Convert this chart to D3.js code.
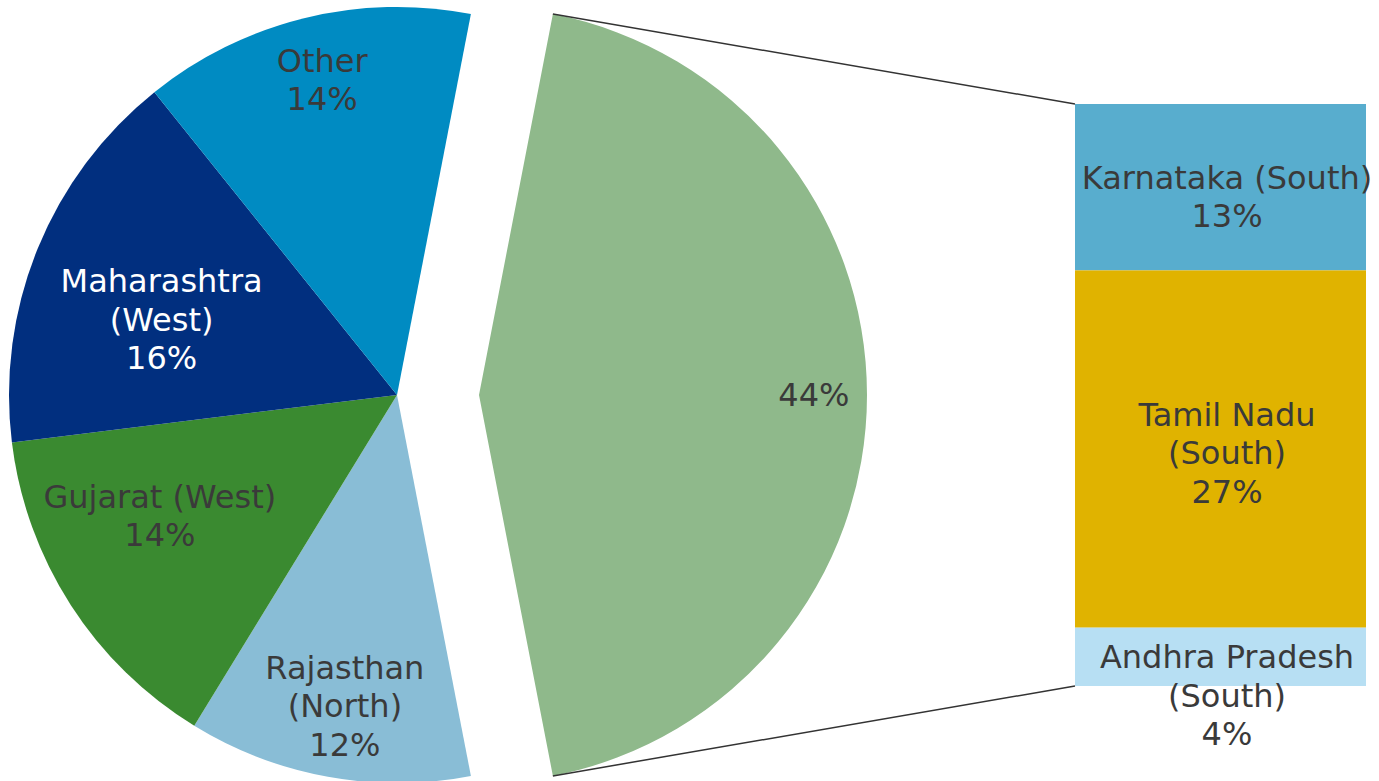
<!DOCTYPE html>
<html>
<head>
<meta charset="utf-8">
<script src="https://cdn.jsdelivr.net/npm/d3@7"></script>
<style>
  html, body { margin: 0; padding: 0; background: #fff; }
  svg text { font-family: Verdana, "DejaVu Sans", sans-serif; font-size: 32px; }
</style>
</head>
<body>
<script>
// pie of bar: first pie slice is the one broken out into the bar
var pieNames = ["", "Rajasthan\n(North)", "Gujarat (West)", "Maharashtra\n(West)", "Other"]
var pieValues = [43.9, 11.8, 14.3, 16.2, 13.8]
var pieColors = ["#8fb98b", "#89bdd6", "#3a8a30", "#012f7f", "#008bc2"]

var barNames = ["Karnataka (South)", "Tamil Nadu\n(South)", "Andhra Pradesh\n(South)"]
var barValues = [12.55, 26.95, 4.4]
var barColors = ["#58adce", "#e0b300", "#b7dff3"]

var W = 1379, H = 781
var cx = 397, cy = 395, R = 388, explode = 82
var bar = {x0: 1075, x1: 1366, y0: 104, y1: 686}
var lineH = 38.5
var textColor = "#3a3a3a"

// label placement tweaks (radius fraction, angle shift in degrees)
var pieLabelR = [0.863, 0.813, 0.686, 0.637, 0.835]
var pieLabelShift = [0, -0.75, 5.75, -4.4, 0.5]
var barLabelDx = 6.5
var barLabelDy = [10, 4, 39]

var svg = d3.select("body").append("svg")
    .attr("width", W)
    .attr("height", H)

var start = Math.PI / 2 - (pieValues[0] / d3.sum(pieValues)) * Math.PI
var pie = d3.pie().sort(null).startAngle(start).endAngle(start + 2 * Math.PI)
var arcs = pie(pieValues)
var arc = d3.arc().innerRadius(0).outerRadius(R)

function offsetOf(i) {
  return i == 0 ? explode : 0
}

svg.append("g")
    .attr("transform", "translate(" + cx + "," + cy + ")")
  .selectAll("path")
  .data(arcs)
  .enter()
  .append("path")
    .attr("d", arc)
    .attr("fill", function(d, i) { return pieColors[i] })
    .attr("transform", function(d, i) { return "translate(" + offsetOf(i) + ",0)" })

// connector lines from the broken-out slice to the bar
var g0 = arcs[0]
var ax = cx + explode
var topPt = [ax + R * Math.sin(g0.startAngle), cy - R * Math.cos(g0.startAngle)]
var botPt = [ax + R * Math.sin(g0.endAngle), cy - R * Math.cos(g0.endAngle)]

svg.append("line")
    .attr("x1", topPt[0]).attr("y1", topPt[1])
    .attr("x2", bar.x0).attr("y2", bar.y0)
    .attr("stroke", "#333").attr("stroke-width", 1.5)
svg.append("line")
    .attr("x1", botPt[0]).attr("y1", botPt[1])
    .attr("x2", bar.x0).attr("y2", bar.y1)
    .attr("stroke", "#333").attr("stroke-width", 1.5)

// stacked bar
var y = d3.scaleLinear()
    .domain([0, d3.sum(barValues)])
    .range([bar.y0, bar.y1])
var cum = d3.cumsum(barValues)
var segs = barValues.map(function(v, i) {
  return {v: v, a: cum[i] - v, b: cum[i]}
})

svg.selectAll("rect.seg")
  .data(segs)
  .enter()
  .append("rect")
    .attr("class", "seg")
    .attr("x", bar.x0)
    .attr("width", bar.x1 - bar.x0)
    .attr("y", function(d) { return y(d.a) })
    .attr("height", function(d) { return y(d.b) - y(d.a) })
    .attr("fill", function(d, i) { return barColors[i] })

function writeLabel(lines, x, yc, color) {
  var t = svg.append("text")
      .attr("text-anchor", "middle")
      .attr("fill", color)
  lines.forEach(function(s, k) {
    t.append("tspan")
        .attr("x", x)
        .attr("y", yc + (k - (lines.length - 1) / 2) * lineH)
        .attr("dominant-baseline", "central")
        .text(s)
  })
}

// pie labels
arcs.forEach(function(d, i) {
  var mid = (d.startAngle + d.endAngle) / 2 + pieLabelShift[i] * Math.PI / 180
  var rr = R * pieLabelR[i]
  var x = cx + offsetOf(i) + rr * Math.sin(mid)
  var yy = cy - rr * Math.cos(mid)
  var lines = pieNames[i] ? pieNames[i].split("\n") : []
  lines.push(Math.round(pieValues[i]) + "%")
  writeLabel(lines, x, yy, i == 3 ? "#ffffff" : textColor)
})

// bar labels
segs.forEach(function(d, i) {
  var lines = barNames[i].split("\n")
  lines.push(Math.round(d.v) + "%")
  writeLabel(lines, (bar.x0 + bar.x1) / 2 + barLabelDx, (y(d.a) + y(d.b)) / 2 + barLabelDy[i], textColor)
})
</script>
</body>
</html>
